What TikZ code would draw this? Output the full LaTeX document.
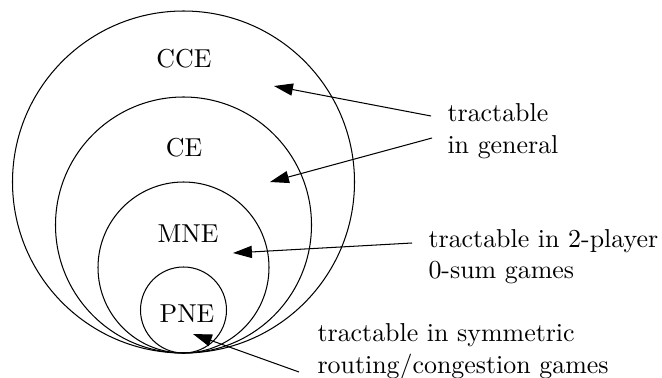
\documentclass[tikz,border=0pt]{standalone}
\usepackage{amssymb}
\usetikzlibrary{arrows.meta}

\begin{document}
\begin{tikzpicture}[x=0.386pt,y=0.386pt,yscale=-1,xscale=1,
  note/.style={anchor=base west,align=left,inner sep=0pt},
  pointer/.style={-{Triangle[length=7.3pt,width=4.7pt]}}]
\useasboundingbox (0,0) rectangle (662,377);

% Circles
\draw (183.5,182) circle [radius=171];
\draw (183.5,225) circle [radius=128];
\draw (183.5,267.5) circle [radius=85.5];
\draw (183.5,310) circle [radius=43];

% Text Node
\node (cce) at (184,59) {CCE};
% Text Node
\node (ce) at (184,148) {CE};
% Text Node
\node (mne) at (188,234) {MNE};
% Text Node
\node (pne) at (187,314) {PNE};
% Text Node
\node [note] (general) at (447,153) {tractable\\in general};
% Text Node
\node [note] (zerosum) at (428,278.5) {tractable in 2-player\\0-sum games};
% Text Node
\node [note] (routing) at (317,373) {tractable in symmetric\\routing/congestion games};

% Ends of the connections
\coordinate (t1) at (431,116);
\coordinate (h1) at (274,86);
\coordinate (t2) at (432,138);
\coordinate (h2) at (270,182);
\coordinate (t3) at (412,243);
\coordinate (h3) at (233,253);
\coordinate (t4) at (299,372);
\coordinate (h4) at (193,334);

% Connection
\draw [pointer] (t1) -- (h1);
% Connection
\draw [pointer] (t2) -- (h2);
% Connection
\draw [pointer] (t3) -- (h3);
% Connection
\draw [pointer] (t4) -- (h4);

\end{tikzpicture}
\end{document}
